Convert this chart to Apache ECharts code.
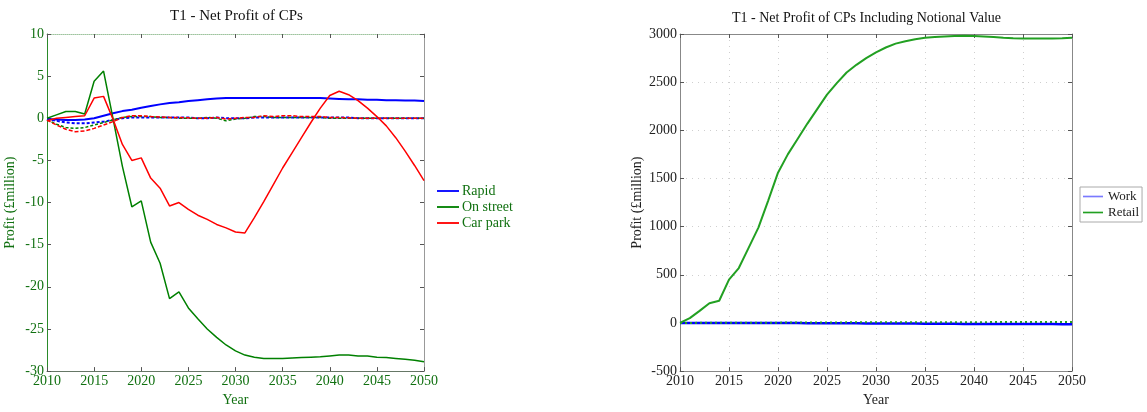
<!DOCTYPE html>
<html>
<head>
<meta charset="utf-8">
<script src="https://cdn.jsdelivr.net/npm/echarts@6/dist/echarts.min.js"></script>
<style>
  html, body { margin: 0; padding: 0; background: #fff; }
  #chart { width: 1147px; height: 412px; }
</style>
</head>
<body>
<div id="chart"></div>
<script>
// years on the x axis
var years = [2010, 2011, 2012, 2013, 2014, 2015, 2016, 2017, 2018, 2019,
  2020, 2021, 2022, 2023, 2024, 2025, 2026, 2027, 2028, 2029,
  2030, 2031, 2032, 2033, 2034, 2035, 2036, 2037, 2038, 2039,
  2040, 2041, 2042, 2043, 2044, 2045, 2046, 2047, 2048, 2049, 2050];

// left chart - net profit (£million)
var rapid = [-0.1, -0.15, -0.2, -0.2, -0.15, 0.0, 0.3, 0.6, 0.85, 1.0,
  1.25, 1.45, 1.65, 1.8, 1.9, 2.05, 2.15, 2.25, 2.35, 2.4,
  2.4, 2.4, 2.4, 2.4, 2.4, 2.4, 2.4, 2.4, 2.4, 2.4,
  2.35, 2.3, 2.25, 2.25, 2.2, 2.2, 2.15, 2.15, 2.1, 2.1, 2.05];
var onStreet = [0.0, 0.4, 0.8, 0.8, 0.5, 4.4, 5.6, 0.0, -5.7, -10.5,
  -9.8, -14.7, -17.2, -21.4, -20.6, -22.5, -23.8, -25.0, -26.0, -26.9,
  -27.6, -28.1, -28.35, -28.5, -28.5, -28.5, -28.45, -28.4, -28.35, -28.3,
  -28.2, -28.1, -28.1, -28.2, -28.2, -28.35, -28.4, -28.5, -28.6, -28.7, -28.9];
var carPark = [-0.3, 0.0, 0.1, 0.2, 0.3, 2.4, 2.6, -0.1, -3.1, -5.0,
  -4.7, -7.1, -8.3, -10.4, -10.0, -10.8, -11.5, -12.0, -12.6, -13.0,
  -13.5, -13.6, -11.8, -9.9, -7.9, -5.9, -4.1, -2.3, -0.5, 1.2,
  2.7, 3.2, 2.8, 2.1, 1.2, 0.2, -0.9, -2.3, -3.9, -5.6, -7.4];
// dashed lines (not in legend)
var rapidBase = [-0.1, -0.3, -0.5, -0.6, -0.6, -0.5, -0.4, -0.2, 0.0, 0.1,
  0.1, 0.1, 0.1, 0.1, 0.1, 0.1, 0.0, 0.0, 0.1, 0.0,
  0.0, 0.0, 0.1, 0.1, 0.1, 0.1, 0.1, 0.1, 0.1, 0.1,
  0.1, 0.1, 0.1, 0.0, 0.0, 0.0, 0.0, 0.0, 0.0, 0.0, 0.0];
var onStreetBase = [-0.2, -0.7, -1.1, -1.2, -1.1, -0.8, -0.5, -0.2, 0.1, 0.2,
  0.2, 0.2, 0.1, 0.1, 0.0, 0.0, 0.0, 0.1, 0.0, -0.3,
  -0.1, 0.0, 0.2, 0.2, 0.1, 0.1, 0.1, 0.1, 0.1, 0.1,
  0.0, 0.0, 0.0, 0.0, 0.0, 0.0, 0.0, 0.0, 0.0, 0.0, 0.0];
var carParkBase = [-0.2, -0.8, -1.3, -1.6, -1.5, -1.2, -0.8, -0.4, 0.1, 0.3,
  0.3, 0.2, 0.15, 0.1, 0.1, 0.05, 0.0, 0.0, 0.1, -0.1,
  0.0, 0.1, 0.1, 0.3, 0.2, 0.3, 0.3, 0.2, 0.2, 0.2,
  0.1, 0.1, 0.05, 0.0, 0.0, 0.0, 0.0, 0.0, 0.0, 0.0, 0.0];

// right chart - including notional value
var work = [0, 0, 0, 0, 0, 0, 0, 0, 0, 0,
  0, -1, -1, -2, -2, -3, -3, -4, -4, -5,
  -5, -6, -6, -7, -7, -8, -8, -9, -9, -10,
  -10, -10, -11, -11, -11, -12, -12, -12, -12, -13, -13];
var retail = [0, 50, 125, 205, 230, 450, 570, 780, 990, 1270,
  1560, 1750, 1910, 2070, 2220, 2370, 2490, 2600, 2680, 2750,
  2810, 2860, 2900, 2925, 2945, 2960, 2970, 2975, 2980, 2982,
  2980, 2975, 2968, 2960, 2955, 2952, 2952, 2952, 2953, 2955, 2960];
var retailBase = [0, 0, 1, 1, 1, 2, 2, 2, 3, 3,
  3, 4, 4, 4, 5, 5, 5, 6, 6, 6,
  6, 7, 7, 7, 7, 8, 8, 8, 8, 8,
  8, 8, 9, 9, 9, 9, 9, 9, 9, 9, 9];

var FONT = 'Liberation Serif';
var GREEN_TXT = '#107010';
var LEG_ICON = 'path://M0,0 L24,0 L24,2 L0,2 Z';

function pairs(vals) {
  return years.map(function (y, i) { return [y, vals[i]]; });
}

function plain(v) { return String(v); }

function line(name, vals, color, width, xi, yi, dash) {
  return {
    name: name,
    type: 'line',
    xAxisIndex: xi,
    yAxisIndex: yi,
    data: pairs(vals),
    symbol: 'none',
    animation: false,
    lineStyle: { color: color, width: width, type: dash || 'solid' },
    itemStyle: { color: color }
  };
}

function xAx(grid, pos, lineColor, labelColor, lineType, split) {
  return {
    gridIndex: grid, type: 'value', position: pos,
    min: 2010, max: 2050, interval: 5,
    axisLine: { show: true, onZero: false, lineStyle: { color: lineColor, type: lineType || 'solid' } },
    axisTick: { show: true, inside: true, length: 4, lineStyle: { color: '#555' } },
    axisLabel: { show: pos === 'bottom', color: labelColor, fontFamily: FONT, fontSize: 14, margin: 3, formatter: plain },
    splitLine: { show: !!split, lineStyle: { color: '#cfcfcf', type: [1, 5] } },
    name: pos === 'bottom' ? 'Year' : '',
    nameLocation: 'middle', nameGap: 16,
    nameTextStyle: { color: labelColor, fontFamily: FONT, fontSize: 14 }
  };
}

function yAx(grid, pos, min, max, step, lineColor, labelColor, gap, split) {
  return {
    gridIndex: grid, type: 'value', position: pos,
    min: min, max: max, interval: step,
    axisLine: { show: true, onZero: false, lineStyle: { color: lineColor } },
    axisTick: { show: true, inside: true, length: 4, lineStyle: { color: '#555' } },
    axisLabel: { show: pos === 'left', color: labelColor, fontFamily: FONT, fontSize: 14, margin: 3, formatter: plain },
    splitLine: { show: !!split, lineStyle: { color: '#cfcfcf', type: [1, 5] } },
    name: pos === 'left' ? 'Profit (£million)' : '',
    nameLocation: 'middle', nameGap: gap, nameRotate: 90,
    nameTextStyle: { color: labelColor, fontFamily: FONT, fontSize: 14 }
  };
}

var myChart = echarts.init(document.getElementById('chart'));
myChart.setOption({
  backgroundColor: '#fff',
  animation: false,
  title: [
    { text: 'T1 - Net Profit of CPs', left: 165, top: 4,
      textStyle: { color: '#111', fontFamily: FONT, fontSize: 15, fontWeight: 'normal' } },
    { text: 'T1 - Net Profit of CPs Including Notional Value', left: 727, top: 6,
      textStyle: { color: '#111', fontFamily: FONT, fontSize: 14, fontWeight: 'normal' } }
  ],
  grid: [
    { left: 47, top: 34, width: 377, height: 346 },
    { left: 680, top: 34, width: 392, height: 344 }
  ],
  legend: [
    { data: ['Rapid', 'On street', 'Car park'], orient: 'vertical', left: 433, top: 181,
      icon: LEG_ICON, itemWidth: 22, itemHeight: 2, itemGap: 2, itemStyle: {}, padding: [3, 4],
      textStyle: { color: GREEN_TXT, fontFamily: FONT, fontSize: 14, padding: [0, 0, 0, -2] } },
    { data: [{ name: 'Work', itemStyle: { color: '#7a7aff' } }, 'Retail'],
      orient: 'vertical', left: 1080, top: 187,
      icon: LEG_ICON, itemWidth: 20, itemHeight: 2, itemGap: 3, padding: [3, 3],
      borderColor: '#aaa', borderWidth: 1,
      textStyle: { color: '#222', fontFamily: FONT, fontSize: 13 } }
  ],
  xAxis: [
    xAx(0, 'bottom', '#667766', GREEN_TXT),
    xAx(0, 'top', '#9ec49e', GREEN_TXT, 'dotted'),
    xAx(1, 'bottom', '#888', '#222', 'solid', true),
    xAx(1, 'top', '#888', '#222')
  ],
  yAxis: [
    yAx(0, 'left', -30, 10, 5, '#2a8a2a', GREEN_TXT, 30),
    yAx(0, 'right', -30, 10, 5, '#999', GREEN_TXT, 30),
    yAx(1, 'left', -500, 3000, 500, '#888', '#222', 36, true),
    yAx(1, 'right', -500, 3000, 500, '#888', '#222', 36)
  ],
  series: [
    line('Rapid base', rapidBase, '#0000ff', 2, 0, 0, [3, 2]),
    line('On street base', onStreetBase, '#008000', 1.5, 0, 0, [3, 2]),
    line('Car park base', carParkBase, '#ff0000', 1.5, 0, 0, [4, 2]),
    line('Rapid', rapid, '#0000ff', 2, 0, 0),
    line('On street', onStreet, '#008000', 1.5, 0, 0),
    line('Car park', carPark, '#ff0000', 1.5, 0, 0),
    line('Work', work, '#0000ff', 2.5, 2, 2),
    line('Retail', retail, '#22a022', 2, 2, 2),
    line('Retail base', retailBase, '#22a022', 2, 2, 2, [2, 3])
  ]
});
window.addEventListener('resize', function () { myChart.resize(); });
</script>
</body>
</html>
